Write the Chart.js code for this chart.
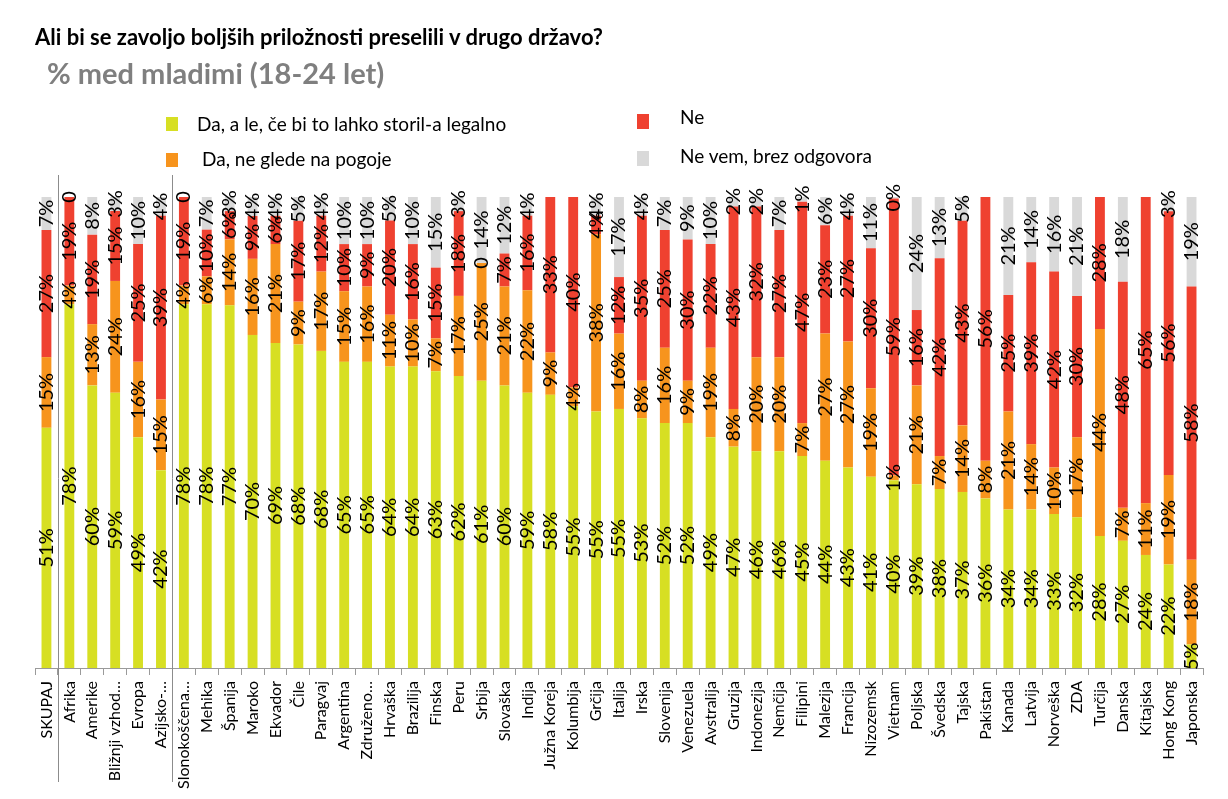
<!DOCTYPE html>
<html>
<head>
<meta charset="utf-8">
<script src="https://cdn.jsdelivr.net/npm/chart.js@4.4.1/dist/chart.umd.min.js"></script>
<style>
    body { margin: 0; background: #fff; font-family: Lato, "Open Sans", sans-serif; }
    #page { position: relative; width: 1228px; height: 799px; overflow: hidden; }
    #chart { position: absolute; left: 0; top: 0; }
    .title { position: absolute; left: 35px; top: 23px; font-size: 22px; font-weight: bold; color: #000; white-space: nowrap; }
    .sub { position: absolute; left: 47px; top: 55px; font-size: 29px; font-weight: bold; color: #7f7f7f; white-space: nowrap; }
    .sw { position: absolute; width: 12px; height: 14px; }
    .lt { position: absolute; font-size: 19px; color: #000; white-space: nowrap; line-height: 22px; }
</style>
</head>
<body>
<div id="page">
    <canvas id="chart" width="1228" height="799"></canvas>
    <div class="title">Ali bi se zavoljo boljših priložnosti preselili v drugo državo?</div>
    <div class="sub">% med mladimi (18-24 let)</div>

    <div class="sw" style="left:166px;top:117px;background:#d7df23"></div>
    <div class="lt" style="left:197px;top:113px">Da, a le, če bi to lahko storil-a legalno</div>
    <div class="sw" style="left:166px;top:153px;background:#f7941d"></div>
    <div class="lt" style="left:202px;top:148px">Da, ne glede na pogoje</div>
    <div class="sw" style="left:637px;top:114px;height:15px;background:#ef4130"></div>
    <div class="lt" style="left:680px;top:106px">Ne</div>
    <div class="sw" style="left:637px;top:151px;height:15px;background:#d9d9d9"></div>
    <div class="lt" style="left:680px;top:145px">Ne vem, brez odgovora</div>
</div>
<script>
// Categories and values (%)
const categories = [
    "SKUPAJ", "Afrika", "Amerike", "Bližnji vzhod…", "Evropa", "Azijsko-…",
    "Slonokoščena…", "Mehika", "Španija", "Maroko", "Ekvador", "Čile", "Paragvaj",
    "Argentina", "Združeno…", "Hrvaška", "Brazilija", "Finska", "Peru", "Srbija",
    "Slovaška", "Indija", "Južna Koreja", "Kolumbija", "Grčija", "Italija", "Irska",
    "Slovenija", "Venezuela", "Avstralija", "Gruzija", "Indonezija", "Nemčija",
    "Filipini", "Malezija", "Francija", "Nizozemsk", "Vietnam", "Poljska", "Švedska",
    "Tajska", "Pakistan", "Kanada", "Latvija", "Norveška", "ZDA", "Turčija", "Danska",
    "Kitajska", "Hong Kong", "Japonska"
];

const legalOnly = [51, 78, 60, 59, 49, 42, 78, 78, 77, 70, 69, 68, 68, 65, 65, 64, 64, 63, 62, 61,
    60, 59, 58, 55, 55, 55, 53, 52, 52, 49, 47, 46, 46, 45, 44, 43, 41, 40, 39, 38,
    37, 36, 34, 34, 33, 32, 28, 27, 24, 22, 5];

const regardless = [15, 4, 13, 24, 16, 15, 4, 6, 14, 16, 21, 9, 17, 15, 16, 11, 10, 7, 17, 25,
    21, 22, 9, 4, 38, 16, 8, 16, 9, 19, 8, 20, 20, 7, 27, 27, 19, 1, 21, 7,
    14, 8, 21, 14, 10, 17, 44, 7, 11, 19, 18];

const noVals = [27, 19, 19, 15, 25, 39, 19, 10, 6, 9, 6, 17, 12, 10, 9, 20, 16, 15, 18, 0,
    7, 16, 33, 40, 4, 12, 35, 25, 30, 22, 43, 32, 27, 47, 23, 27, 30, 59, 16, 42,
    43, 56, 25, 39, 42, 30, 28, 48, 65, 56, 58];

// Vietnam shows "0%" (rounded down), the others with a bare "0" are true zeros
const dontKnow = [7, 0, 8, 3, 10, 4, 0, 7, 3, 4, 4, 5, 4, 10, 10, 5, 10, 15, 3, 14,
    12, 4, null, null, 4, 17, 4, 7, 9, 10, 2, 2, 7, 1, 6, 4, 11, 0.3, 24, 13,
    5, null, 21, 14, 16, 21, null, 18, null, 3, 19];

const seriesNames = ["Da, a le, če bi to lahko storil-a legalno", "Da, ne glede na pogoje", "Ne", "Ne vem, brez odgovora"];
const seriesColors = ["#d7df23", "#f7941d", "#ef4130", "#d9d9d9"];

// 100% stacked: each column is scaled to its own total
const allSeries = [legalOnly, regardless, noVals, dontKnow];
const totals = categories.map((c, j) => allSeries.reduce((s, d) => s + (d[j] || 0), 0));

// value labels, rotated, centred in each segment
const segmentLabels = {
    id: "segmentLabels",
    afterDatasetsDraw(chart) {
        let ctx = chart.ctx;
        ctx.save();
        ctx.font = "20px Lato, 'Open Sans', sans-serif";
        ctx.fillStyle = "#000";
        ctx.textAlign = "center";
        ctx.textBaseline = "middle";
        chart.data.datasets.forEach((ds, i) => {
            chart.getDatasetMeta(i).data.forEach((bar, j) => {
                let v = ds.raw[j];
                if (v === null || v === undefined) return;
                ctx.save();
                ctx.translate(bar.x, (bar.y + bar.base) / 2);
                ctx.rotate(-Math.PI / 2);
                ctx.fillText(v === 0 ? "0" : Math.round(v) + "%", 0, 0);
                ctx.restore();
            });
        });
        ctx.restore();
    }
};

// vertical lines between total / regions / countries
const groupLines = {
    id: "groupLines",
    afterDraw(chart) {
        let ctx = chart.ctx;
        let x = chart.scales.x;
        ctx.save();
        ctx.strokeStyle = "#8c8c8c";
        ctx.lineWidth = 1;
        [0, 5].forEach(i => {
            let px = Math.round((x.getPixelForValue(i) + x.getPixelForValue(i + 1)) / 2) + 0.5;
            ctx.beginPath();
            ctx.moveTo(px, 175);
            ctx.lineTo(px, 782);
            ctx.stroke();
        });
        ctx.restore();
    }
};

new Chart(document.getElementById("chart").getContext("2d"), {
    type: "bar",
    data: {
        labels: categories,
        datasets: allSeries.map((d, i) => ({
            label: seriesNames[i],
            data: d.map((v, j) => v === null ? null : v / totals[j] * 100),
            raw: d,
            backgroundColor: seriesColors[i],
            borderWidth: 0,
            categoryPercentage: 1,
            barPercentage: 0.43
        }))
    },
    options: {
        responsive: false,
        animation: false,
        layout: { padding: { top: 197, left: 35, right: 25, bottom: 0 } },
        plugins: {
            legend: { display: false },
            tooltip: { enabled: false }
        },
        scales: {
            x: {
                stacked: true,
                afterFit: scale => { scale.height = 131; },
                grid: { display: true, drawOnChartArea: false, tickLength: 7, color: "#9a9a9a", offset: true },
                border: { display: true, color: "#9a9a9a" },
                ticks: {
                    autoSkip: false,
                    maxRotation: 90,
                    minRotation: 90,
                    padding: 6,
                    color: "#000",
                    font: { family: "Lato", size: 16 }
                }
            },
            y: {
                stacked: true,
                display: false,
                min: 0,
                max: 100
            }
        }
    },
    plugins: [segmentLabels, groupLines]
});
</script>
</body>
</html>
